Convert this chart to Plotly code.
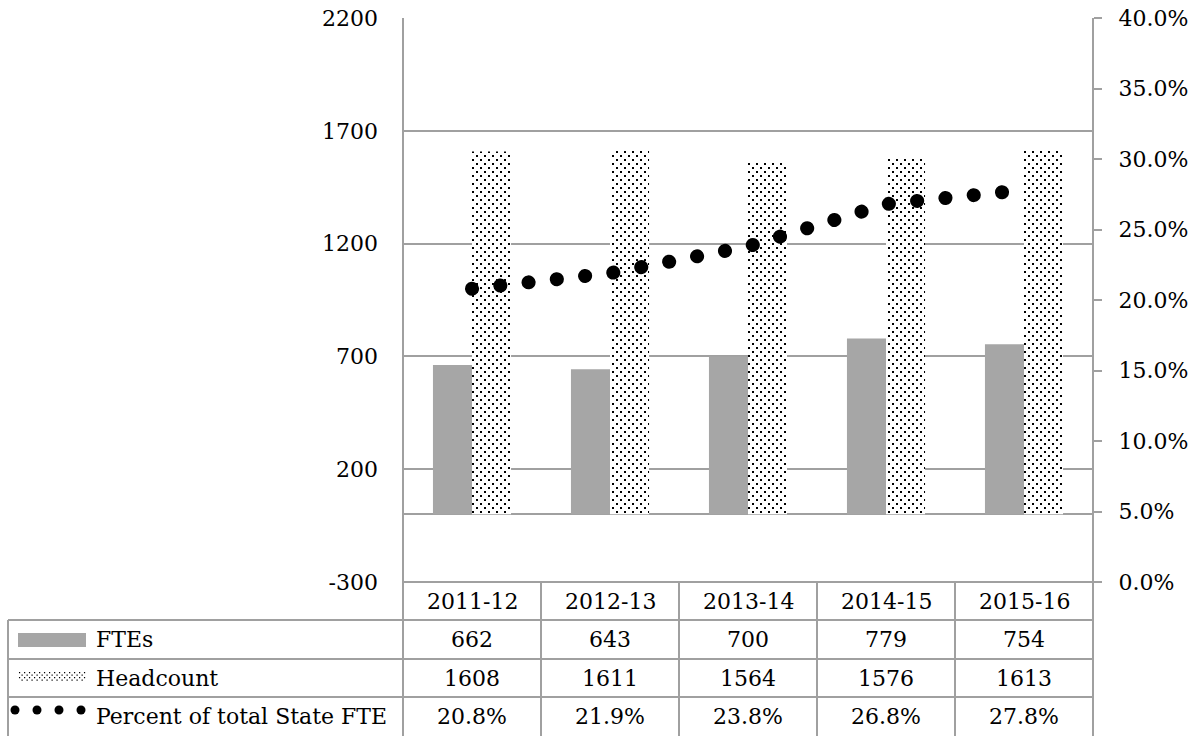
import plotly.graph_objects as go

# ---- data ----
categories = ["2011-12", "2012-13", "2013-14", "2014-15", "2015-16"]
ftes = [662, 643, 700, 779, 754]
headcount = [1608, 1611, 1564, 1576, 1613]
pct_state_fte = [0.208, 0.219, 0.238, 0.268, 0.278]
series_names = ["FTEs", "Headcount", "Percent of total State FTE"]
left_ticks = [-300, 200, 700, 1200, 1700, 2200]
right_ticks = [0.0, 0.05, 0.10, 0.15, 0.20, 0.25, 0.30, 0.35, 0.40]

W, H = 1201, 736
FONT = "DejaVu Serif"
GRID = "#a0a0a0"


def X(px):
    return px / W


def Y(py):
    return 1 - py / H


fig = go.Figure()
fig.add_trace(go.Bar(
    x=categories, y=ftes, name=series_names[0],
    marker=dict(color="#a6a6a6", line=dict(width=0)),
))
fig.add_trace(go.Bar(
    x=categories, y=headcount, name=series_names[1],
    marker=dict(color="white", line=dict(width=0),
                pattern=dict(shape=".", fgcolor="black", bgcolor="white",
                             size=6, solidity=0.12, fillmode="replace")),
))
fig.add_trace(go.Scatter(
    x=categories, y=pct_state_fte, name=series_names[2], yaxis="y2",
    mode="lines", line=dict(color="black", width=14, dash="0.1px,28.34px"),
))

shapes = []
line_style = dict(color=GRID, width=2)
# outer vertical lines (axis lines extending through table)
shapes.append(dict(type="line", xref="paper", yref="paper", x0=X(403), x1=X(403), y0=Y(18), y1=Y(736), line=line_style))
shapes.append(dict(type="line", xref="paper", yref="paper", x0=X(1093), x1=X(1093), y0=Y(18), y1=Y(736), line=line_style))
# table horizontal lines
shapes.append(dict(type="line", xref="paper", yref="paper", x0=X(403), x1=X(1093), y0=Y(582), y1=Y(582), line=line_style))
for py in [620, 659, 697]:
    shapes.append(dict(type="line", xref="paper", yref="paper", x0=X(8), x1=X(1093), y0=Y(py), y1=Y(py), line=line_style))
# left border of the label column
shapes.append(dict(type="line", xref="paper", yref="paper", x0=X(8), x1=X(8), y0=Y(620), y1=Y(736), line=line_style))
# column separators at category boundaries
for k in range(1, len(categories)):
    shapes.append(dict(type="line", xref="x", yref="paper", x0=k - 0.5, x1=k - 0.5, y0=Y(582), y1=Y(736), line=line_style))

# legend keys
shapes.append(dict(type="rect", xref="paper", yref="paper", x0=X(18), x1=X(86), y0=Y(647), y1=Y(633),
                   fillcolor="#a6a6a6", line=dict(width=0)))
# dotted key for headcount (one path of tiny squares)
parts = []
row_y = [672, 674.5, 677, 679.5]
for r, yy in enumerate(row_y):
    off = 0 if r % 2 == 0 else 2.5
    xx = 19 + off
    while xx < 86:
        parts.append("M%.4f,%.4f L%.4f,%.4f L%.4f,%.4f L%.4f,%.4f Z" % (
            X(xx), Y(yy), X(xx + 1.2), Y(yy), X(xx + 1.2), Y(yy + 1.2), X(xx), Y(yy + 1.2)))
        xx += 5
shapes.append(dict(type="path", xref="paper", yref="paper", path=" ".join(parts),
                   fillcolor="black", line=dict(width=0)))
# dots key for percent
for cx in [15, 37, 59, 81]:
    shapes.append(dict(type="circle", xref="paper", yref="paper", x0=X(cx - 4.5), x1=X(cx + 4.5),
                       y0=Y(710 + 4.5), y1=Y(710 - 4.5), fillcolor="black", line=dict(width=0)))

annotations = []
tfont = dict(family=FONT, size=22, color="black")
for c in categories:
    annotations.append(dict(x=c, xref="x", y=Y(601), yref="paper", text=c, showarrow=False,
                            font=tfont, xanchor="center", yanchor="middle"))
row_centers = [639.5, 678, 716.5]
rows = [[str(v) for v in ftes], [str(v) for v in headcount], ["%.1f%%" % (v * 100) for v in pct_state_fte]]
for rc, vals, name in zip(row_centers, rows, series_names):
    annotations.append(dict(x=X(94), xref="paper", y=Y(rc), yref="paper", text=name, showarrow=False,
                            font=tfont, xanchor="left", yanchor="middle"))
    for c, v in zip(categories, vals):
        annotations.append(dict(x=c, xref="x", y=Y(rc), yref="paper", text=v, showarrow=False,
                                font=tfont, xanchor="center", yanchor="middle"))

fig.update_layout(
    template="none",
    width=W, height=H,
    margin=dict(l=0, r=0, t=0, b=0, pad=0, autoexpand=False),
    paper_bgcolor="white", plot_bgcolor="white",
    font=dict(family=FONT, size=22, color="black"),
    barmode="group", bargap=0.434, bargroupgap=0,
    showlegend=False,
    xaxis=dict(domain=[X(403), X(1093)], type="category", range=[-0.5, 4.5], automargin=False,
               showticklabels=False, showgrid=False, zeroline=False, showline=False, ticks=""),
    yaxis=dict(domain=[Y(582), Y(18)], range=[-300, 2200], tickmode="array", tickvals=left_ticks,
               ticktext=[str(v) for v in left_ticks], automargin=False,
               showgrid=True, gridcolor=GRID, gridwidth=2, zeroline=True, zerolinecolor=GRID,
               zerolinewidth=2, showline=False, ticks="", ticklabelstandoff=24,
               tickfont=dict(family=FONT, size=22, color="black")),
    yaxis2=dict(overlaying="y", side="right", anchor="x", range=[0, 0.4], tickmode="array",
                automargin=False,
                tickvals=right_ticks, tickformat=".1%", showgrid=False, zeroline=False,
                showline=False, ticks="outside", ticklen=8, tickwidth=2, tickcolor=GRID,
                ticklabelstandoff=12, tickfont=dict(family=FONT, size=22, color="black")),
    shapes=shapes,
    annotations=annotations,
)

post = r"""
var s=document.createElement('style');
s.innerHTML='html,body{margin:0;padding:0;} .scatterlayer .js-line{stroke-linecap:round !important;}';
document.head.appendChild(s);
var ns='http://www.w3.org/2000/svg';
document.querySelectorAll('pattern').forEach(function(p){
  if(!p.querySelector('circle')) return;
  p.setAttribute('width','8'); p.setAttribute('height','8');
  while(p.firstChild) p.removeChild(p.firstChild);
  var bg=document.createElementNS(ns,'rect');
  bg.setAttribute('width','8'); bg.setAttribute('height','8'); bg.setAttribute('fill','white');
  p.appendChild(bg);
  [[1,1],[5,5]].forEach(function(d){
    var r=document.createElementNS(ns,'rect');
    r.setAttribute('x',d[0]); r.setAttribute('y',d[1]);
    r.setAttribute('width','2'); r.setAttribute('height','2'); r.setAttribute('fill','black');
    p.appendChild(r);
  });
});
"""
fig.write_html("out.html", post_script=post, config={"displayModeBar": False})
